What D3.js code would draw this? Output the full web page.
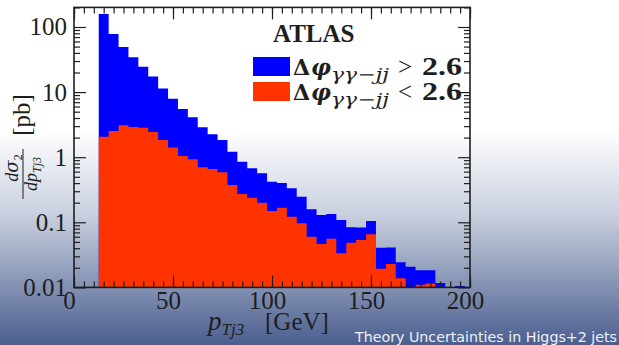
<!DOCTYPE html>
<html>
<head>
<meta charset="utf-8">
<script src="https://cdn.jsdelivr.net/npm/d3@7"></script>
<style>
body { margin: 0; overflow: hidden; background: #fff; }
svg { display: block; }
</style>
</head>
<body>
<svg id="chart" width="619" height="345"></svg>
<script>
//histogram data (pT of third jet, 5 GeV bins, lower edges)
var binLow = [12.5, 17.5, 22.5, 27.5, 32.5, 37.5, 42.5, 47.5, 52.5, 57.5,
	62.5, 67.5, 72.5, 77.5, 82.5, 87.5, 92.5, 97.5, 102.5, 107.5,
	112.5, 117.5, 122.5, 127.5, 132.5, 137.5, 142.5, 147.5, 152.5, 157.5,
	162.5, 167.5, 172.5, 177.5, 182.5, 187.5, 192.5];
var binWidth = 5;

//dphi > 2.6 (blue)
var dphiAbove = [158, 78, 49.3, 34.3, 24.6, 17.3, 11.4, 7.9, 5.5, 4.1,
	2.88, 2.25, 1.84, 1.21, 0.85, 0.675, 0.566, 0.42, 0.40, 0.333,
	0.247, 0.158, 0.129, 0.134, 0.108, 0.084, 0.083, 0.105, 0.0405, 0.041,
	0.0243, 0.0208, 0.0183, 0.0183, 0.0117, 0.008, 0.0105];

//dphi < 2.6 (red)
var dphiBelow = [2.07, 2.53, 3.09, 2.91, 2.84, 2.44, 1.84, 1.41, 1.04, 0.93,
	0.70, 0.66, 0.586, 0.374, 0.272, 0.239, 0.20, 0.149, 0.168, 0.122,
	0.0966, 0.060, 0.0465, 0.056, 0.0334, 0.0486, 0.0535, 0.0654, 0.0194, 0.0229,
	0.0138, 0.008, 0.011, 0.0115, 0.008, 0.005, 0.005];

var xTicks = [0, 50, 100, 150, 200];
var yTicks = [0.01, 0.1, 1, 10, 100];
var yTickLabels = ["0.01", "0.1", "1", "10", "100"];

var plot = {left: 74, right: 470, top: 7.4, bottom: 287.4};
var yMin = 0.01, yMax = 200;
var blue = "#0000ff", red = "#ff3300", ink = "#1e1e1e";
var serif = "'Liberation Serif', 'DejaVu Serif', serif";
var greek = "'DejaVu Serif', serif";

var svg = d3.select("#chart");

//slide background
var grad = svg.append("defs").append("linearGradient")
	.attr("id", "bg").attr("x1", 0).attr("y1", 0).attr("x2", 0).attr("y2", 1);
grad.append("stop").attr("offset", "0.38").attr("stop-color", "#ffffff");
grad.append("stop").attr("offset", "0.62").attr("stop-color", "#c9d0df");
grad.append("stop").attr("offset", "1").attr("stop-color", "#4b5f8f");
svg.append("rect").attr("width", 619).attr("height", 345).attr("fill", "url(#bg)");

var x = d3.scaleLinear().domain([0, 200]).range([plot.left, plot.right]);
var y = d3.scaleLog().domain([yMin, yMax]).range([plot.bottom, plot.top]);

//histograms as step areas
function drawHist(values, colour)
{
	var pts = values.map(function(v, i) { return [binLow[i], v]; });
	pts.push([binLow[binLow.length - 1] + binWidth, values[values.length - 1]]);
	var area = d3.area()
		.curve(d3.curveStepAfter)
		.x(function(d) { return x(d[0]); })
		.y0(plot.bottom)
		.y1(function(d) { return y(Math.max(d[1], yMin)); });
	svg.append("path").datum(pts).attr("d", area).attr("fill", colour);
}
drawHist(dphiAbove, blue);
drawHist(dphiBelow, red);

//minor ticks
var xMinor = d3.range(0, 201, 5);
var yMinor = [];
[0.01, 0.1, 1, 10, 100].forEach(function(dec)
	{
		for(var k = 2; k <= 9; k++) if(k * dec <= yMax) yMinor.push(k * dec);
	});

function styleAxis(g)
{
	g.select(".domain").remove();
	g.selectAll("line").attr("stroke", ink).attr("stroke-width", 1.2);
	g.selectAll("text").attr("fill", ink).style("font-family", serif).style("font-size", "25px");
}

svg.append("g").attr("transform", "translate(" + plot.left + ",0)")
	.call(d3.axisLeft(y).tickValues(yMinor).tickSize(-6).tickFormat("")).call(styleAxis);
svg.append("g").attr("transform", "translate(" + plot.left + ",0)")
	.call(d3.axisLeft(y).tickValues(yTicks).tickSize(-12).tickPadding(7)
		.tickFormat(function(d, i) { return yTickLabels[i]; }))
	.call(styleAxis);
svg.append("g").attr("transform", "translate(" + plot.right + ",0)")
	.call(d3.axisRight(y).tickValues(yMinor).tickSize(-6).tickFormat("")).call(styleAxis);
svg.append("g").attr("transform", "translate(" + plot.right + ",0)")
	.call(d3.axisRight(y).tickValues(yTicks).tickSize(-12).tickFormat("")).call(styleAxis);

svg.append("g").attr("transform", "translate(0," + plot.bottom + ")")
	.call(d3.axisBottom(x).tickValues(xMinor).tickSize(-6).tickFormat("")).call(styleAxis);
var xAx = svg.append("g").attr("transform", "translate(0," + plot.bottom + ")")
	.call(d3.axisBottom(x).tickValues(xTicks).tickSize(-12).tickPadding(4).tickFormat(d3.format("d")))
	.call(styleAxis);
xAx.selectAll("text").attr("dx", -5);
svg.append("g").attr("transform", "translate(0," + plot.top + ")")
	.call(d3.axisTop(x).tickValues(xMinor).tickSize(-6).tickFormat("")).call(styleAxis);
svg.append("g").attr("transform", "translate(0," + plot.top + ")")
	.call(d3.axisTop(x).tickValues(xTicks).tickSize(-12).tickFormat("")).call(styleAxis);

//frame
svg.append("rect")
	.attr("x", plot.left).attr("y", plot.top)
	.attr("width", plot.right - plot.left).attr("height", plot.bottom - plot.top)
	.attr("fill", "none").attr("stroke", ink).attr("stroke-width", 1.6);

//x title
var xt = svg.append("text").attr("x", 208).attr("y", 330)
	.attr("fill", ink).style("font-family", serif).style("font-size", "25px");
xt.append("tspan").style("font-style", "italic").style("font-size", "27px").text("p");
xt.append("tspan").style("font-style", "italic").style("font-size", "17px").attr("dy", 5).text("Tj3");
xt.append("tspan").attr("x", 265).attr("dy", -5).text("[GeV]");

//y title
svg.append("text").attr("transform", "translate(30,115) rotate(-90)")
	.attr("text-anchor", "middle").attr("fill", ink)
	.style("font-family", serif).style("font-size", "25px").text("[pb]");

var frac = svg.append("g").attr("transform", "translate(23,174) rotate(-90)")
	.attr("fill", ink).style("font-family", serif).style("font-style", "italic");
var num = frac.append("text").attr("x", 6).attr("y", -5).attr("text-anchor", "middle").style("font-size", "18px");
num.append("tspan").text("d");
num.append("tspan").style("font-family", greek).text("\u03c3");
num.append("tspan").attr("dy", 4).style("font-size", "12px").style("font-style", "normal").text("2");
frac.append("line").attr("x1", -25).attr("x2", 25).attr("stroke", ink).attr("stroke-width", 1);
var den = frac.append("text").attr("x", 0).attr("y", 14).attr("text-anchor", "middle").style("font-size", "18px");
den.append("tspan").text("dp");
den.append("tspan").attr("dy", 4).style("font-size", "12px").text("Tj3");

//legend
svg.append("text").attr("x", 273).attr("y", 42).attr("fill", ink)
	.style("font-family", serif).style("font-size", "25px").style("font-weight", "bold").text("ATLAS");

var legend = [{colour: blue, sign: ">", base: 75}, {colour: red, sign: "<", base: 100}];
legend.forEach(function(l)
	{
		svg.append("rect").attr("x", 253).attr("y", l.base - 18).attr("width", 37).attr("height", 19)
			.attr("fill", l.colour);
		var t = svg.append("text").attr("x", 293).attr("y", l.base).attr("fill", ink)
			.style("font-family", serif).style("font-size", "25px").style("font-weight", "bold");
		t.append("tspan").style("font-family", greek).style("font-size", "22px").text("\u0394");
		t.append("tspan").attr("x", 311).style("font-family", greek).style("font-size", "22px")
			.style("font-style", "italic").text("\u03c6");
		t.append("tspan").attr("x", 331).attr("dy", 5).attr("textLength", 58).attr("lengthAdjust", "spacingAndGlyphs")
			.style("font-family", greek).style("font-size", "16px").style("font-style", "italic")
			.style("font-weight", "normal").text("\u03b3\u03b3\u2212jj");
		t.append("tspan").attr("x", 398).attr("dy", -5).style("font-weight", "normal").text(l.sign);
		t.append("tspan").attr("x", 422).attr("textLength", 40).attr("lengthAdjust", "spacingAndGlyphs").text("2.6");
	});

//footer
svg.append("text").attr("x", 355).attr("y", 342).attr("fill", "#eef1f7")
	.attr("textLength", 262).attr("lengthAdjust", "spacingAndGlyphs")
	.style("font-family", "'DejaVu Sans', sans-serif").style("font-size", "14px")
	.text("Theory Uncertainties in Higgs+2 jets");
</script>
</body>
</html>
